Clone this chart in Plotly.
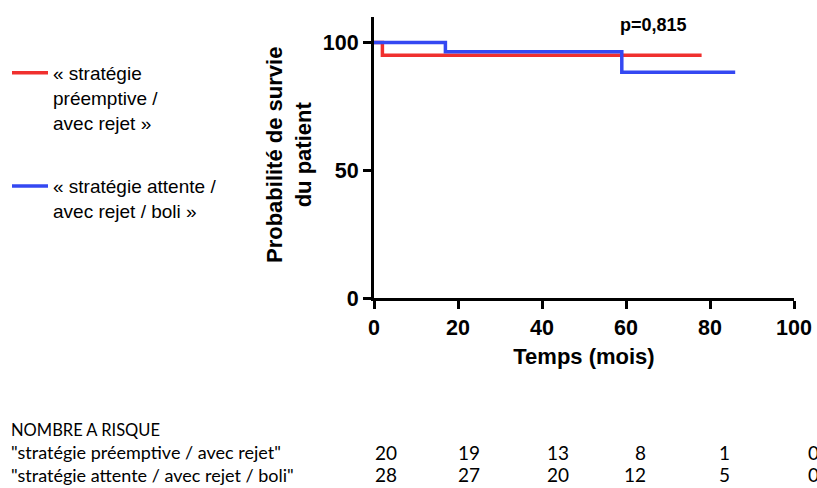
import plotly.graph_objects as go

# ---- data ----
series_names = ["« stratégie<br>préemptive /<br>avec rejet »",
                "« stratégie attente /<br>avec rejet / boli »"]
time_preemptive = [0, 2, 78]
surv_preemptive = [100, 95, 95]
time_attente = [0, 17, 59, 86]
surv_attente = [100, 96.4, 88.4, 88.4]
x_ticks = [0, 20, 40, 60, 80, 100]
y_ticks = [0, 50, 100]
p_value_text = "p=0,815"
risk_title = "NOMBRE A RISQUE"
risk_labels = ['"stratégie préemptive / avec rejet"',
               '"stratégie attente / avec rejet / boli"']
risk_preemptive = [20, 19, 13, 8, 1, 0]
risk_attente = [28, 27, 20, 12, 5, 0]

# ---- style ----
W, H = 817, 488
ML, MR, MT, MB = 374, 23, 17, 190
PW, PH = W - ML - MR, H - MT - MB
RED, BLUE = "#F0302E", "#3448F2"
AX = "Liberation Sans"
TBL = "Lato"

def px_x(p):
    return (p - ML) / PW

def px_y(p):
    return (H - MB - p) / PH

fig = go.Figure()
fig.add_trace(go.Scatter(x=time_preemptive, y=surv_preemptive, mode="lines",
                         line=dict(color=RED, width=3.5, shape="hv"),
                         name=series_names[0], legendgroup="a"))
fig.add_trace(go.Scatter(x=time_attente, y=surv_attente, mode="lines",
                         line=dict(color=BLUE, width=3.5, shape="hv"),
                         name=series_names[1], legendgroup="b"))

axis_common = dict(showgrid=False, zeroline=False, showline=True, linecolor="black",
                   linewidth=3, ticks="outside", ticklen=8, tickwidth=3, tickcolor="black",
                   tickfont=dict(family=AX, size=21.5, color="black", weight="bold"))
fig.update_xaxes(range=[0, 100], tickvals=x_ticks,
                 title=dict(text="Temps (mois)", font=dict(family=AX, size=22, color="black", weight="bold"),
                            standoff=10), **axis_common)
fig.update_yaxes(range=[0, 110], tickvals=y_ticks, **axis_common)

annotations = [
    dict(text="Probabilité de survie<br>du patient", xref="paper", yref="paper",
         x=px_x(289), y=px_y(155), xanchor="center", yanchor="middle",
         textangle=-90, showarrow=False,
         font=dict(family=AX, size=22, color="black", weight="bold")),
    dict(text=p_value_text, xref="x", yref="y", x=66.5, y=107, showarrow=False,
         xanchor="center", yanchor="middle",
         font=dict(family=AX, size=18, color="black", weight="bold")),
    dict(text=risk_title, xref="paper", yref="paper", x=px_x(9), y=px_y(430),
         xanchor="left", yanchor="middle", showarrow=False,
         font=dict(family=TBL, size=16.5, color="black")),
]
col_right = [399, 482, 571, 648, 732, 821]
rows_y = [452, 475]
for lab, vals, yy in zip(risk_labels, [risk_preemptive, risk_attente], rows_y):
    annotations.append(dict(text=lab, xref="paper", yref="paper", x=px_x(9), y=px_y(yy),
                            xanchor="left", yanchor="middle", showarrow=False,
                            font=dict(family=TBL, size=18, color="black")))
    for v, rx in zip(vals, col_right):
        annotations.append(dict(text=str(v), xref="paper", yref="paper", x=px_x(rx), y=px_y(yy),
                                xanchor="right", yanchor="middle", showarrow=False,
                                font=dict(family=TBL, size=19, color="black")))

fig.update_layout(
    width=W, height=H, margin=dict(l=ML, r=MR, t=MT, b=MB, autoexpand=False),
    paper_bgcolor="white", plot_bgcolor="white",
    showlegend=True,
    legend=dict(x=px_x(7), y=px_y(54), xanchor="left", yanchor="top",
                valign="top", tracegroupgap=36, traceorder="grouped", itemwidth=36,
                font=dict(family=AX, size=19, color="black"), bgcolor="rgba(0,0,0,0)"),
    annotations=annotations,
)

fig.write_html("out.html", config={"displayModeBar": False},
               post_script="document.body.style.margin='0';document.body.style.overflow='hidden';")
